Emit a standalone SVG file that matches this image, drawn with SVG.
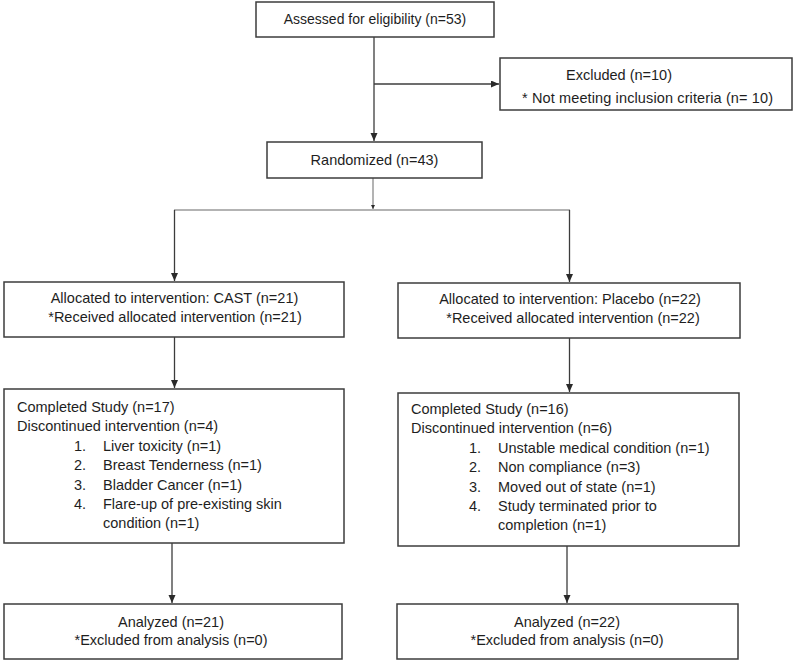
<svg xmlns="http://www.w3.org/2000/svg" width="800" height="664" viewBox="0 0 800 664">
<defs>
<style>
.box{fill:#fff;stroke:#3c3c3c;stroke-width:1.5}
.t{font-family:"Liberation Sans",Arial,sans-serif;font-size:14.5px;fill:#1e1e1e}
.c{text-anchor:middle}
.ln{fill:none;stroke:#3c3c3c;stroke-width:1.3}
.gl{fill:none;stroke:#9a9a9a;stroke-width:1.5}
</style>
<marker id="ah" markerUnits="userSpaceOnUse" markerWidth="10" markerHeight="10" refX="8" refY="3.5" orient="auto">
<path d="M0,0 L8,3.5 L0,7 z" fill="#2a2a2a"/>
</marker>
<marker id="ahs" markerUnits="userSpaceOnUse" markerWidth="6" markerHeight="6" refX="4" refY="2" orient="auto">
<path d="M0,0 L4,2 L0,4 z" fill="#2a2a2a"/>
</marker>
</defs>
<rect width="800" height="664" fill="#fff"/>
<g id="connectors">
<line class="ln" x1="374" y1="37" x2="374" y2="141" marker-end="url(#ah)"/>
<line class="ln" x1="374" y1="84" x2="499" y2="84" marker-end="url(#ah)"/>
<line class="gl" x1="373" y1="178" x2="373" y2="209" marker-end="url(#ahs)"/>
<line class="gl" x1="174" y1="210" x2="570" y2="210"/>
<line class="ln" x1="174.5" y1="210" x2="174.5" y2="281" marker-end="url(#ah)"/>
<line class="ln" x1="569.5" y1="210" x2="569.5" y2="282" marker-end="url(#ah)"/>
<line class="ln" x1="174.5" y1="337" x2="174.5" y2="388" marker-end="url(#ah)"/>
<line class="ln" x1="569.5" y1="338" x2="569.5" y2="392" marker-end="url(#ah)"/>
<line class="ln" x1="172" y1="543" x2="172" y2="603" marker-end="url(#ah)"/>
<line class="ln" x1="567" y1="546" x2="567" y2="603" marker-end="url(#ah)"/>
</g>
<g id="assessed">
<rect class="box" x="256" y="2" width="238" height="35"/>
<text class="t c" x="375" y="24" style="font-size:14px">Assessed for eligibility (n=53)</text>
</g>
<g id="excluded">
<rect class="box" x="500" y="58" width="292" height="52"/>
<text class="t" x="566" y="80">Excluded (n=10)</text>
<text class="t c" x="647.5" y="103" textLength="251">* Not meeting inclusion criteria (n= 10)</text>
</g>
<g id="randomized">
<rect class="box" x="267" y="142" width="215" height="36"/>
<text class="t c" x="374.5" y="165">Randomized (n=43)</text>
</g>
<g id="alloc-cast">
<rect class="box" x="4" y="282" width="340" height="55"/>
<text class="t c" x="174.5" y="303">Allocated to intervention: CAST (n=21)</text>
<text class="t c" x="175" y="322">*Received allocated intervention (n=21)</text>
</g>
<g id="alloc-placebo">
<rect class="box" x="398" y="283" width="342" height="55"/>
<text class="t c" x="570" y="304">Allocated to intervention: Placebo (n=22)</text>
<text class="t c" x="573" y="323">*Received allocated intervention (n=22)</text>
</g>
<g id="completed-cast">
<rect class="box" x="4" y="389" width="340" height="154"/>
<text class="t" x="17" y="412">Completed Study (n=17)</text>
<text class="t" x="17" y="431">Discontinued intervention (n=4)</text>
<text class="t" x="74" y="451">1.</text><text class="t" x="103" y="451">Liver toxicity (n=1)</text>
<text class="t" x="74" y="470">2.</text><text class="t" x="103" y="470">Breast Tenderness (n=1)</text>
<text class="t" x="74" y="490">3.</text><text class="t" x="103" y="490">Bladder Cancer (n=1)</text>
<text class="t" x="74" y="509">4.</text><text class="t" x="103" y="509">Flare-up of pre-existing skin</text>
<text class="t" x="103" y="528">condition (n=1)</text>
</g>
<g id="completed-placebo">
<rect class="box" x="398" y="393" width="341" height="153"/>
<text class="t" x="411" y="414">Completed Study (n=16)</text>
<text class="t" x="411" y="433">Discontinued intervention (n=6)</text>
<text class="t" x="469" y="453">1.</text><text class="t" x="498" y="453">Unstable medical condition (n=1)</text>
<text class="t" x="469" y="472">2.</text><text class="t" x="498" y="472">Non compliance (n=3)</text>
<text class="t" x="469" y="492">3.</text><text class="t" x="498" y="492">Moved out of state (n=1)</text>
<text class="t" x="469" y="511">4.</text><text class="t" x="498" y="511">Study terminated prior to</text>
<text class="t" x="498" y="530">completion (n=1)</text>
</g>
<g id="analyzed-cast">
<rect class="box" x="4" y="604" width="338" height="55"/>
<text class="t c" x="171" y="627">Analyzed (n=21)</text>
<text class="t c" x="171" y="645">*Excluded from analysis (n=0)</text>
</g>
<g id="analyzed-placebo">
<rect class="box" x="397" y="604" width="341" height="55"/>
<text class="t c" x="567" y="627">Analyzed (n=22)</text>
<text class="t c" x="567" y="645">*Excluded from analysis (n=0)</text>
</g>
</svg>
